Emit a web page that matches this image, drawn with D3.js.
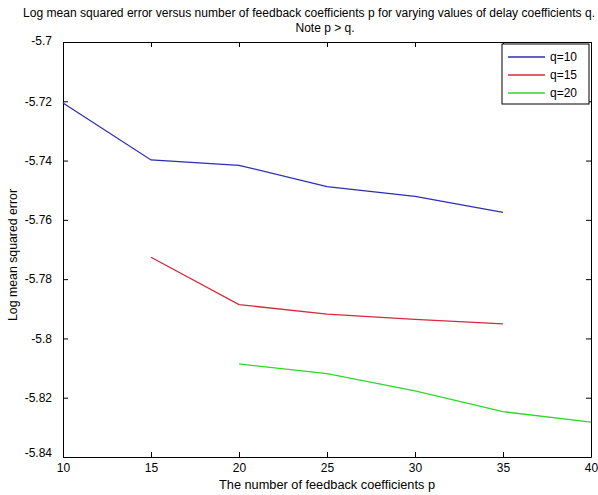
<!DOCTYPE html>
<html>
<head>
<meta charset="utf-8">
<script src="https://cdn.jsdelivr.net/npm/d3@7"></script>
<style>
  body { margin: 0; background: #fff; }
  text { font-family: "Liberation Sans", Arial, sans-serif; fill: #000; }
</style>
</head>
<body>
<div id="wrapper"></div>
<script>
// data
const pValues10 = [10, 15, 20, 25, 30, 35]
const mse10 = [-5.7206, -5.7398, -5.7416, -5.7488, -5.7521, -5.7575]
const pValues15 = [15, 20, 25, 30, 35]
const mse15 = [-5.7726, -5.7886, -5.7918, -5.7936, -5.7951]
const pValues20 = [20, 25, 30, 35, 40]
const mse20 = [-5.8086, -5.8119, -5.8177, -5.8247, -5.8282]
const seriesNames = ["q=10", "q=15", "q=20"]
const seriesColors = ["#2e2eb4", "#d42a3a", "#2ed72e"]
const xTicks = [10, 15, 20, 25, 30, 35, 40]
const yTicks = [-5.7, -5.72, -5.74, -5.76, -5.78, -5.8, -5.82, -5.84]

const series = [
  { name: seriesNames[0], color: seriesColors[0], values: pValues10.map((p, i) => ({ p, v: mse10[i] })) },
  { name: seriesNames[1], color: seriesColors[1], values: pValues15.map((p, i) => ({ p, v: mse15[i] })) },
  { name: seriesNames[2], color: seriesColors[2], values: pValues20.map((p, i) => ({ p, v: mse20[i] })) },
]

const width = 598
const dimensions = {
  width: width,
  height: 495,
  margin: { top: 42, right: 7, bottom: 38, left: 63 },
}
dimensions.boundedWidth = dimensions.width - dimensions.margin.left - dimensions.margin.right
dimensions.boundedHeight = dimensions.height - dimensions.margin.top - dimensions.margin.bottom

const wrapper = d3.select("#wrapper")
  .append("svg")
    .attr("width", dimensions.width)
    .attr("height", dimensions.height)

const bounds = wrapper.append("g")
    .attr("transform", `translate(${dimensions.margin.left},${dimensions.margin.top})`)

const xScale = d3.scaleLinear()
  .domain([10, 40])
  .range([0, dimensions.boundedWidth])

const yScale = d3.scaleLinear()
  .domain([-5.84, -5.7])
  .range([dimensions.boundedHeight, 0])

// axes, matlab style: ticks pointing inward on all four sides
const fmt = d => String(+d.toFixed(2))
const tickLen = 5

const xAxis = bounds.append("g")
    .attr("transform", `translate(0,${dimensions.boundedHeight})`)
    .call(d3.axisBottom(xScale).tickValues(xTicks).tickSizeInner(-tickLen).tickSizeOuter(0).tickPadding(6).tickFormat(fmt))
const xAxisTop = bounds.append("g")
    .call(d3.axisTop(xScale).tickValues(xTicks).tickSizeInner(-tickLen).tickSizeOuter(0).tickFormat(""))
const yAxis = bounds.append("g")
    .call(d3.axisLeft(yScale).tickValues(yTicks).tickSizeInner(-tickLen).tickSizeOuter(0).tickPadding(11).tickFormat(fmt))
const yAxisRight = bounds.append("g")
    .attr("transform", `translate(${dimensions.boundedWidth},0)`)
    .call(d3.axisRight(yScale).tickValues(yTicks).tickSizeInner(-tickLen).tickSizeOuter(0).tickFormat(""))

bounds.selectAll(".domain").attr("stroke", "#000")
bounds.selectAll(".tick line").attr("stroke", "#000")
bounds.selectAll(".tick text")
    .style("font-size", "12px")
    .style("font-family", "'Liberation Sans', Arial, sans-serif")
    .attr("fill", "#000")
yAxis.selectAll(".tick text").attr("dy", "0.32em")
// matlab nudges the end labels
yAxis.selectAll(".tick text").filter(d => d === -5.84).attr("dy", "-0.05em")
yAxis.selectAll(".tick text").filter(d => d === -5.7).attr("dy", "0.2em")

// draw lines
const lineGenerator = d3.line()
  .x(d => xScale(d.p))
  .y(d => yScale(d.v))

bounds.append("g").selectAll("path")
  .data(series)
  .join("path")
    .attr("d", d => lineGenerator(d.values))
    .attr("fill", "none")
    .attr("stroke", d => d.color)
    .attr("stroke-width", 1.3)

// legend
const legend = bounds.append("g")
    .attr("transform", `translate(${dimensions.boundedWidth - 89},2)`)
legend.append("rect")
    .attr("width", 87)
    .attr("height", 60)
    .attr("fill", "#fff")
    .attr("stroke", "#000")
const legendItems = legend.selectAll("g")
  .data(series)
  .join("g")
    .attr("transform", (d, i) => `translate(0,${13 + i * 18})`)
legendItems.append("line")
    .attr("x1", 6)
    .attr("x2", 43)
    .attr("stroke", d => d.color)
    .attr("stroke-width", 1.3)
legendItems.append("text")
    .attr("x", 48)
    .attr("dy", "0.35em")
    .style("font-size", "12px")
    .text(d => d.name)

// titles and labels
wrapper.append("text")
    .attr("x", 309)
    .attr("y", 17)
    .attr("text-anchor", "middle")
    .attr("textLength", 572)
    .attr("lengthAdjust", "spacingAndGlyphs")
    .style("font-size", "12px")
    .text("Log mean squared error versus number of feedback coefficients p for varying values of delay coefficients q.")
wrapper.append("text")
    .attr("x", 325)
    .attr("y", 32)
    .attr("text-anchor", "middle")
    .style("font-size", "12px")
    .text("Note p > q.")

wrapper.append("text")
    .attr("x", dimensions.margin.left + dimensions.boundedWidth / 2)
    .attr("y", 489)
    .attr("text-anchor", "middle")
    .attr("textLength", 216)
    .attr("lengthAdjust", "spacingAndGlyphs")
    .style("font-size", "12px")
    .text("The number of feedback coefficients p")

wrapper.append("text")
    .attr("transform", `translate(17,255) rotate(-90)`)
    .attr("text-anchor", "middle")
    .attr("textLength", 132)
    .attr("lengthAdjust", "spacingAndGlyphs")
    .style("font-size", "12px")
    .text("Log mean squared error")
</script>
</body>
</html>
